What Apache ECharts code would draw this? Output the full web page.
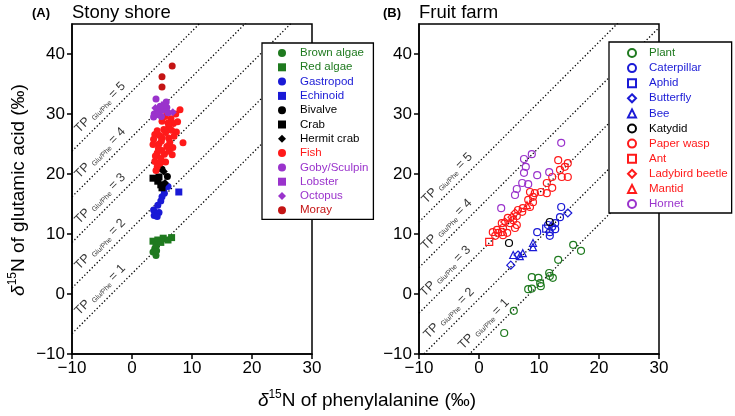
<!DOCTYPE html>
<html><head><meta charset="utf-8">
<script src="https://cdn.jsdelivr.net/npm/echarts@6/dist/echarts.min.js"></script>
<style>html,body{margin:0;padding:0;background:#fff}#c{width:735px;height:416px}</style>
</head><body><div id="c"></div>
<script>
// ---- axes ----
const xTicks = [-10, 0, 10, 20, 30];
const yTicks = [-10, 0, 10, 20, 30, 40];
const tpLevels = [1, 2, 3, 4, 5];
const betaAquatic = 3.4, betaTerrestrial = -8.4, tdf = 7.6;

// ---- Panel A: Stony shore (filled markers) ----
const brownAlgae = [[3.8,7.6],[3.5,7.0],[4.0,6.4],[4.1,7.2]];
const redAlgae = [[3.5,8.8],[4.3,9.0],[5.2,9.3],[6.6,9.4],[4.0,8.2],[4.8,8.6],[6.0,9.0]];
const gastropod = [[6.0,17.9],[5.4,16.8],[5.0,16.2],[4.8,15.5],[4.3,14.8],[3.6,14.0],[4.5,13.6],[3.7,13.1],[4.2,12.9],[5.3,17.4]];
const echinoid = [[7.8,17.0]];
const bivalve = [[5.9,19.6],[5.0,20.8]];
const crab = [[3.5,19.3],[4.3,18.8],[4.8,18.2],[5.0,17.7],[4.5,19.5]];
const hermitCrab = [[5.3,20.4],[5.5,18.5]];
const fish = [[8.0,30.7],[7.3,30.0],[6.5,29.2],[6.9,28.4],[6.1,27.8],[5.3,27.4],[3.8,26.6],[4.6,26.4],[5.6,26.9],[4.2,27.2],
  [5.0,26.0],[6.1,26.0],[3.5,24.9],[4.5,25.0],[5.8,24.6],[6.8,24.4],[8.5,25.2],[4.2,23.5],[5.4,23.3],[6.7,23.2],
  [3.8,22.1],[4.7,21.8],[5.6,22.0],[4.2,21.2],[4.0,20.6],[6.0,28.5],[7.4,27.0],[5.0,28.8],[4.4,24.2],[5.0,23.9],
  [6.3,25.3],[3.9,23.0],[7.0,26.3],[5.5,29.6],[4.8,22.6],[6.2,23.8],[3.6,25.8],[4.9,25.5],[7.6,28.7],[6.6,27.3]];
const goby = [[4.0,32.5],[5.7,32.0],[5.2,30.7],[4.2,30.6],[3.7,30.0],[6.0,30.2],[4.7,31.3],[5.8,31.1],[3.6,29.5],[4.9,29.6]];
const lobster = [[4.5,29.9],[5.4,31.5]];
const octopus = [[6.8,30.3],[3.9,31.0]];
const moray = [[6.7,38.0],[5.0,36.2],[5.0,34.5]];

// ---- Panel B: Fruit farm (open markers) ----
const plant = [[4.2,-6.5],[5.8,-2.8],[8.2,0.8],[8.8,0.9],[8.8,2.8],[9.9,2.7],[10.2,1.8],[10.3,1.3],[11.7,3.5],[11.8,3.0],[12.3,2.7],[13.2,5.7],[15.7,8.2],[17.0,7.2]];
const caterpillar = [[9.7,10.3],[11.8,10.3],[11.8,9.7],[12.2,11.2],[12.7,11.8],[13.7,14.5],[13.5,12.8],[12.7,10.8],[11.5,11.5]];
const aphid = [[11.2,10.9]];
const butterfly = [[14.8,13.5],[5.3,4.8],[6.5,6.5]];
const bee = [[5.7,6.5],[7.3,6.8],[9.0,8.5],[9.0,7.8],[6.8,6.3]];
const katydid = [[5.0,8.5],[11.8,12.0]];
const paperWasp = [[13.2,22.3],[14.8,21.8],[14.3,21.2],[13.5,20.7],[13.8,19.5],[14.8,19.5],[12.2,19.5],[11.3,18.5],[12.2,17.7],[11.3,16.8],
  [10.3,17.0],[9.3,16.8],[8.5,17.0],[9.0,16.2],[8.2,15.7],[9.0,15.3],[8.5,14.5],[7.3,14.3],[6.5,14.0],[7.2,13.7],
  [6.3,13.0],[4.8,12.7],[5.7,12.3],[5.2,11.8],[3.8,11.8],[6.3,11.5],[6.0,11.0],[4.0,11.0],[3.0,10.7],[2.3,10.3],
  [3.2,10.2],[3.8,10.3],[2.7,9.7],[4.0,9.8],[4.7,10.2]];
const ant = [[1.7,8.7]];
const ladybird = [[5.5,12.8],[6.0,13.5],[4.3,12.0]];
const mantid = [[8.0,14.8]];
const hornet = [[13.7,25.2],[8.8,23.3],[7.5,22.5],[7.8,21.2],[7.5,20.2],[9.7,19.8],[11.7,20.3],[7.2,18.5],[8.2,18.3],[6.3,17.5],[6.0,16.5],[3.7,14.3]];

const GREEN = '#1f7a1f', BLUE = '#1a1ad6', BLACK = '#000000', RED = '#ff1a1a', PURPLE = '#9a33cc', DARKRED = '#c41414';
const FONT = '"Liberation Sans", Arial, sans-serif';

const seriesA = [
  ['Brown algae', brownAlgae, 'circle', GREEN],
  ['Red algae', redAlgae, 'rect', GREEN],
  ['Gastropod', gastropod, 'circle', BLUE],
  ['Echinoid', echinoid, 'rect', BLUE],
  ['Bivalve', bivalve, 'circle', BLACK],
  ['Crab', crab, 'rect', BLACK],
  ['Hermit crab', hermitCrab, 'diamond', BLACK],
  ['Fish', fish, 'circle', RED],
  ['Goby/Sculpin', goby, 'circle', PURPLE],
  ['Lobster', lobster, 'rect', PURPLE],
  ['Octopus', octopus, 'diamond', PURPLE],
  ['Moray', moray, 'circle', DARKRED]
];
const seriesB = [
  ['Plant', plant, 'circle', GREEN],
  ['Caterpillar', caterpillar, 'circle', BLUE],
  ['Aphid', aphid, 'rect', BLUE],
  ['Butterfly', butterfly, 'diamond', BLUE],
  ['Bee', bee, 'triangle', BLUE],
  ['Katydid', katydid, 'circle', BLACK],
  ['Paper wasp', paperWasp, 'circle', RED],
  ['Ant', ant, 'rect', RED],
  ['Ladybird beetle', ladybird, 'diamond', RED],
  ['Mantid', mantid, 'triangle', RED],
  ['Hornet', hornet, 'circle', PURPLE]
];

const series = [];
// TP isoclines and labels
function addTP(panel, beta, labelX) {
  tpLevels.forEach((tp, i) => {
    const c = beta + (tp - 1) * tdf;
    series.push({
      type: 'line', xAxisIndex: panel, yAxisIndex: panel, silent: true, symbol: 'none', clip: true, z: 1,
      lineStyle: {color: '#000', width: 1.3, type: [1.3, 2.2]},
      data: [[-10, -10 + c], [30, 30 + c]]
    });
  });
  series.push({
    type: 'scatter', xAxisIndex: panel, yAxisIndex: panel, silent: true, symbolSize: 0, z: 3,
    data: tpLevels.map((tp, i) => {
      const c = beta + (tp - 1) * tdf;
      const x = labelX[i];
      return {value: [x, x + c + 2.6], label: {formatter: '{t|TP }{s|Glu/Phe}{t| = ' + tp + '}'}};
    }),
    label: {show: true, position: 'inside', rotate: 45, align: 'center', verticalAlign: 'middle',
      rich: {t: {fontSize: 12.5, fontFamily: FONT, color: '#000', lineHeight: 14},
             s: {fontSize: 7, fontFamily: FONT, color: '#000', lineHeight: 8, verticalAlign: 'bottom'}}}
  });
}
addTP(0, betaAquatic, [-5.3, -5.3, -5.3, -5.3, -5.3]);
addTP(1, betaTerrestrial, [0.8, -5.0, -5.6, -5.4, -5.3]);

seriesA.forEach(([name, data, sym, col]) => series.push({
  type: 'scatter', name, data, xAxisIndex: 0, yAxisIndex: 0, symbol: sym, symbolSize: sym === 'diamond' ? 8 : 7,
  itemStyle: {color: col, opacity: 1}, z: 2
}));
seriesB.forEach(([name, data, sym, col]) => series.push({
  type: 'scatter', name, data, xAxisIndex: 1, yAxisIndex: 1, symbol: sym, symbolSize: sym === 'diamond' ? 8 : 7,
  itemStyle: {color: 'rgba(255,255,255,0)', borderColor: col, borderWidth: 1.2, opacity: 1}, z: 2
}));

function mkX(i) {
  return {type: 'value', gridIndex: i, min: -10, max: 30, interval: 10,
    axisLine: {show: true, onZero: false, lineStyle: {color: '#000', width: 1.5}},
    axisTick: {show: true, length: 5, lineStyle: {color: '#000', width: 1.5}},
    axisLabel: {color: '#000', fontSize: 17, fontFamily: FONT, margin: 6,
      formatter: v => v < 0 ? '\u2212' + Math.abs(v) : String(v)},
    splitLine: {show: false}};
}
function mkY(i) {
  return {type: 'value', gridIndex: i, min: -10, max: 45, interval: 10,
    axisLine: {show: true, onZero: false, lineStyle: {color: '#000', width: 1.5}},
    axisTick: {show: true, length: 5, customValues: yTicks, lineStyle: {color: '#000', width: 1.5}},
    axisLabel: {color: '#000', fontSize: 17, fontFamily: FONT, margin: 7, customValues: yTicks,
      formatter: v => v < 0 ? '\u2212' + Math.abs(v) : String(v)},
    splitLine: {show: false}};
}
function mkLegend(list, left, top, gap, pad, textPad) {
  return {orient: 'vertical', left, top, itemGap: gap, itemWidth: 8, itemHeight: 8, padding: pad,
    selectedMode: false, backgroundColor: '#fff', borderColor: '#000', borderWidth: 1.3, borderRadius: 0,
    textStyle: {fontSize: 11.5, fontFamily: FONT, padding: [0, 0, 0, textPad]},
    data: list.map(([name, , sym, col]) => ({name, textStyle: {color: col}}))};
}

const titleRich = {
  d: {fontSize: 19, fontFamily: FONT, fontStyle: 'italic', color: '#000', lineHeight: 24},
  s: {fontSize: 12, fontFamily: FONT, color: '#000', lineHeight: 14, verticalAlign: 'top'},
  n: {fontSize: 19, fontFamily: FONT, color: '#000', lineHeight: 24}
};

const option = {
  animation: false,
  backgroundColor: '#fff',
  grid: [
    {left: 72, top: 24, width: 240, height: 330, show: true, borderColor: '#000', borderWidth: 1.5, backgroundColor: 'transparent'},
    {left: 419, top: 24, width: 240, height: 330, show: true, borderColor: '#000', borderWidth: 1.5, backgroundColor: 'transparent'}
  ],
  xAxis: [mkX(0), mkX(1)],
  yAxis: [mkY(0), mkY(1)],
  legend: [mkLegend(seriesA, 262, 43, 2.3, [4, 5, 3, 16], 9), mkLegend(seriesB, 609, 42, 3.1, [5, 4, 3, 18], 8)],
  graphic: [
    {type: 'text', x: 32, y: 13, style: {text: '(A)', fontSize: 13, fontWeight: 'bold', fontFamily: FONT, fill: '#000', verticalAlign: 'middle'}},
    {type: 'text', x: 72, y: 13, style: {text: 'Stony shore', fontSize: 18.5, fontFamily: FONT, fill: '#000', verticalAlign: 'middle'}},
    {type: 'text', x: 383, y: 13, style: {text: '(B)', fontSize: 13, fontWeight: 'bold', fontFamily: FONT, fill: '#000', verticalAlign: 'middle'}},
    {type: 'text', x: 419, y: 13, style: {text: 'Fruit farm', fontSize: 18.5, fontFamily: FONT, fill: '#000', verticalAlign: 'middle'}},
    {type: 'text', x: 367, y: 401, style: {text: '{d|\u03b4}{s|15}{n|N of phenylalanine (\u2030)}', rich: titleRich, align: 'center', verticalAlign: 'middle'}},
    {type: 'text', x: 19, y: 190, rotation: Math.PI / 2, style: {text: '{d|\u03b4}{s|15}{n|N of glutamic acid (\u2030)}', rich: titleRich, align: 'center', verticalAlign: 'middle'}}
  ],
  series
};
const chart = echarts.init(document.getElementById('c'), null, {renderer: 'canvas'});
chart.setOption(option);
</script></body></html>
